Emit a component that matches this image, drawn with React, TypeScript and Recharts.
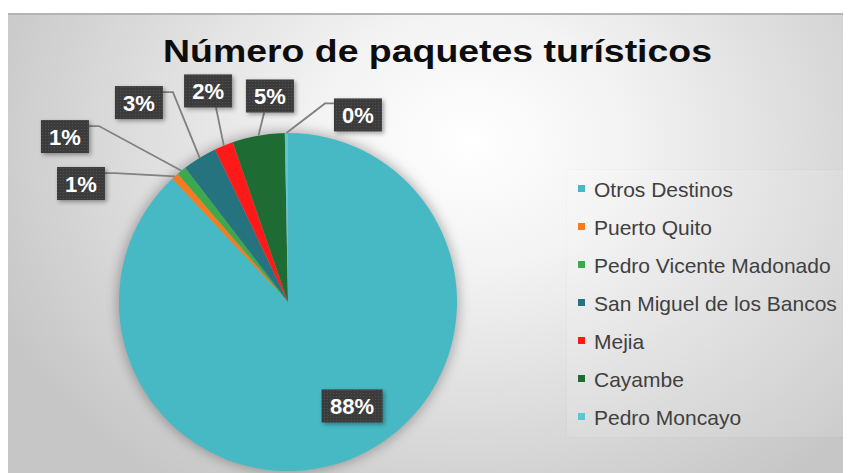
import React from 'react';
import { PieChart, Pie, Cell, Legend } from 'recharts';

const categories = [
  'Otros Destinos',
  'Puerto Quito',
  'Pedro Vicente Madonado',
  'San Miguel de los Bancos',
  'Mejia',
  'Cayambe',
  'Pedro Moncayo',
];
const values = [88.0, 0.7, 0.9, 3.3, 1.8, 5.0, 0.3];
const colors = ['#46B9C5', '#F47B20', '#3CA94F', '#24737F', '#FF1A1A', '#1E6B34', '#5DC6D1'];
const titleText = 'Número de paquetes turísticos';

// label box centre offsets from the pie centre (in outer-radius units) and leader-line side
const labelOffsets: [number, number][] = [
  [0.379, 0.615],
  [-1.225, -0.701],
  [-1.32, -0.979],
  [-0.882, -1.18],
  [-0.473, -1.249],
  [-0.107, -1.219],
  [0.414, -1.107],
];
const leaderSides = ['none', 'right', 'right', 'right', 'bottom', 'bottom', 'left'];

const data = categories.map((name, i) => ({ name, value: values[i] }));
const total = values.reduce((a, b) => a + b, 0);
const shadowData = [{ name: 'shadow', value: total }];

const RAD = Math.PI / 180;

function renderLabel(props: any) {
  const { cx, cy, midAngle, outerRadius, percent, index } = props;
  const [ox, oy] = labelOffsets[index];
  const bx = cx + ox * outerRadius;
  const by = cy + oy * outerRadius;
  const text = `${Math.round(percent * 100)}%`;
  const w = text.length > 2 ? 61 : 48;
  const h = 33;
  const left = bx - w / 2;
  const top = by - h / 2;
  const right = bx + w / 2;
  const bottom = by + h / 2;
  const ax = cx + outerRadius * Math.cos(-midAngle * RAD);
  const ay = cy + outerRadius * Math.sin(-midAngle * RAD);
  const side = leaderSides[index];
  let pts = '';
  if (side === 'right') pts = `${ax},${ay} ${right + 10},${top + 6} ${right},${top + 6}`;
  else if (side === 'left') pts = `${ax},${ay} ${left - 9},${top + 5} ${left},${top + 5}`;
  else if (side === 'bottom') {
    const x = Math.max(left + 6, Math.min(right - 6, (ax + bx) / 2));
    pts = `${ax},${ay} ${x},${bottom}`;
  }
  return (
    <g key={`lbl-${index}`}>
      {pts && <polyline points={pts} fill="none" stroke="#808080" strokeWidth={1.8} />}
      <rect
        x={left}
        y={top}
        width={w}
        height={h}
        fill="url(#lblDots)"
        style={{ filter: 'drop-shadow(2px 2px 2px rgba(0,0,0,0.35))' }}
      />
      <text
        x={bx}
        y={by + 8}
        textAnchor="middle"
        fill="#ffffff"
        fontFamily="'Liberation Sans', Arial, sans-serif"
        fontWeight="bold"
        fontSize={22}
      >
        {text}
      </text>
    </g>
  );
}

function renderLegend(props: any) {
  const payload = (props.payload || [])
    .filter((p: any) => categories.indexOf(p.value) >= 0)
    .slice()
    .sort((a: any, b: any) => categories.indexOf(a.value) - categories.indexOf(b.value));
  return (
    <div
      style={{
        width: 284,
        height: 267,
        background: 'rgba(255,255,255,0.12)',
        boxShadow: '0 0 2px rgba(0,0,0,0.05)',
        paddingTop: 1,
        boxSizing: 'border-box',
      }}
    >
      {payload.map((entry: any, i: number) => (
        <div
          key={`leg-${i}`}
          style={{
            height: 38.05,
            display: 'flex',
            alignItems: 'center',
            paddingLeft: 11,
            fontFamily: "'Liberation Sans', Arial, sans-serif",
            fontSize: 21,
            color: '#404040',
            whiteSpace: 'nowrap',
          }}
        >
          <span
            style={{
              display: 'inline-block',
              width: 7,
              height: 7,
              background: entry.color,
              marginRight: 9,
              position: 'relative',
              top: -2,
            }}
          />
          <span>{entry.value}</span>
        </div>
      ))}
    </div>
  );
}

export default function App() {
  return (
    <div style={{ position: 'relative', width: 843, height: 465, overflow: 'hidden' }}>
      <style>{`html,body{overflow:hidden}`}</style>
      <div
        style={{
          position: 'absolute',
          left: 0,
          top: 5,
          right: 0,
          bottom: 0,
          borderTop: '2px solid #b4b4b4',
          background:
            'radial-gradient(ellipse 520px 420px at 462px 127px, #ffffff 0%, #f3f3f3 30%, #c6c6c6 100%)',
        }}
      />
      <div style={{ position: 'absolute', left: 0, top: 0 }}>
        <PieChart width={843} height={465} margin={{ top: 0, right: 0, bottom: 0, left: 0 }}>
          <defs>
            <pattern id="lblDots" width="3" height="3" patternUnits="userSpaceOnUse">
              <rect width="3" height="3" fill="#3b3b3b" />
              <circle cx="1.5" cy="1.5" r="0.6" fill="#555555" />
            </pattern>
          </defs>
          <text
            x={429.5}
            y={54}
            textAnchor="middle"
            fontFamily="'Liberation Sans', Arial, sans-serif"
            fontWeight="bold"
            fontSize={31}
            fill="#0d0d0d"
            textLength={549}
            lengthAdjust="spacingAndGlyphs"
          >
            {titleText}
          </text>
          <Pie
            data={shadowData}
            dataKey="value"
            nameKey="name"
            cx={280}
            cy={294}
            outerRadius={171}
            startAngle={90}
            endAngle={-270}
            stroke="none"
            legendType="none"
            isAnimationActive={false}
          >
            <Cell fill="rgba(0,0,0,0.28)" style={{ filter: 'blur(6px)' }} />
          </Pie>
          <Pie
            data={data}
            dataKey="value"
            nameKey="name"
            cx={280}
            cy={294}
            outerRadius={169}
            startAngle={90}
            endAngle={-270}
            stroke="none"
            label={renderLabel}
            labelLine={false}
            isAnimationActive={false}
          >
            {data.map((d, i) => (
              <Cell key={d.name} fill={colors[i]} />
            ))}
          </Pie>
          <Legend
            layout="vertical"
            align="right"
            verticalAlign="middle"
            itemSorter={null as any}
            content={renderLegend}
            wrapperStyle={{ position: 'absolute', left: 559, top: 162, width: 284, height: 267 }}
          />
        </PieChart>
      </div>
    </div>
  );
}
